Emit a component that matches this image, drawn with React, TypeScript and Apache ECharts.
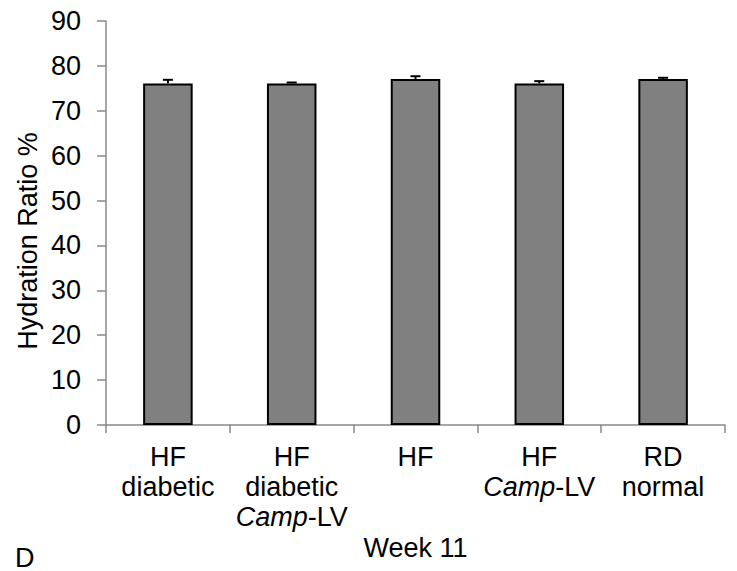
import React, { useEffect, useRef } from "react";
import * as echarts from "echarts";

const categories = ["HF\ndiabetic", "HF\ndiabetic\nCamp-LV", "HF", "HF\nCamp-LV", "RD\nnormal"];
const values = [76.1, 76.1, 77.1, 76.1, 77.1];
const errors = [0.8, 0.2, 0.6, 0.5, 0.25];
const yTicks = [0, 10, 20, 30, 40, 50, 60, 70, 80, 90];
const yTitle = "Hydration Ratio %";
const xTitle = "Week 11";
const panelLetter = "D";

const FONT = "'Liberation Sans', Arial, sans-serif";
const FS = 27;

export default function App() {
  const ref = useRef<HTMLDivElement>(null);
  useEffect(() => {
    if (!ref.current) return;
    const chart = echarts.init(ref.current, null, { renderer: "svg" });
    const axisColor = "#888888";
    chart.setOption({
      animation: false,
      backgroundColor: "#ffffff",
      grid: { left: 106, right: 12, top: 21, bottom: 146, containLabel: false },
      xAxis: {
        type: "category",
        data: categories,
        axisLine: { show: true, lineStyle: { color: axisColor, width: 1.5 } },
        axisTick: { show: true, length: 8, lineStyle: { color: axisColor, width: 1.5 } },
        axisLabel: {
          margin: 17,
          color: "#000",
          fontSize: FS,
          fontFamily: FONT,
          lineHeight: 30,
          interval: 0,
          formatter: (v: string) => v.replace("Camp", "{i|Camp}"),
          rich: {
            i: { fontStyle: "italic", fontSize: FS, fontFamily: FONT, lineHeight: 30, color: "#000" },
          },
        },
        splitLine: { show: false },
      },
      yAxis: {
        type: "value",
        min: yTicks[0],
        max: yTicks[yTicks.length - 1],
        interval: 10,
        axisLine: { show: true, lineStyle: { color: axisColor, width: 1.5 } },
        axisTick: { show: true, length: 9, lineStyle: { color: axisColor, width: 1.5 } },
        axisLabel: { margin: 25, color: "#000", fontSize: FS, fontFamily: FONT },
        splitLine: { show: false },
      },
      series: [
        {
          type: "bar",
          data: values,
          barWidth: "40%",
          itemStyle: { color: "#808080", borderColor: "#000", borderWidth: 2 },
          z: 2,
        },
        {
          type: "custom",
          z: 3,
          data: values.map((v, i) => [i, v, errors[i]]),
          encode: { x: 0, y: 1 },
          renderItem: (params: any, api: any) => {
            const idx = api.value(0);
            const v = api.value(1);
            const e = api.value(2);
            const base = api.coord([idx, v]);
            const top = api.coord([idx, v + e]);
            const hw = 5;
            return {
              type: "group",
              children: [
                {
                  type: "line",
                  shape: { x1: base[0], y1: base[1], x2: top[0], y2: top[1] },
                  style: { stroke: "#000", lineWidth: 2 },
                },
                {
                  type: "line",
                  shape: { x1: top[0] - hw, y1: top[1], x2: top[0] + hw, y2: top[1] },
                  style: { stroke: "#000", lineWidth: 2 },
                },
              ],
            };
          },
        },
      ],
      graphic: [
        {
          type: "text",
          x: 28,
          y: 241,
          rotation: Math.PI / 2,
          style: {
            text: yTitle,
            fontSize: FS,
            fontFamily: FONT,
            fill: "#000",
            align: "center",
            verticalAlign: "middle",
          },
        },
        {
          type: "text",
          x: 415.5,
          y: 548,
          style: {
            text: xTitle,
            fontSize: FS,
            fontFamily: FONT,
            fill: "#000",
            align: "center",
            verticalAlign: "middle",
          },
        },
        {
          type: "text",
          x: 15,
          y: 571,
          style: {
            text: panelLetter,
            fontSize: FS,
            fontFamily: FONT,
            fill: "#000",
            align: "left",
            verticalAlign: "bottom",
          },
        },
      ],
    });
    return () => chart.dispose();
  }, []);
  return (
    <div
      ref={ref}
      style={{ position: "fixed", left: 0, top: 0, width: 737, height: 571, background: "#fff" }}
    />
  );
}
